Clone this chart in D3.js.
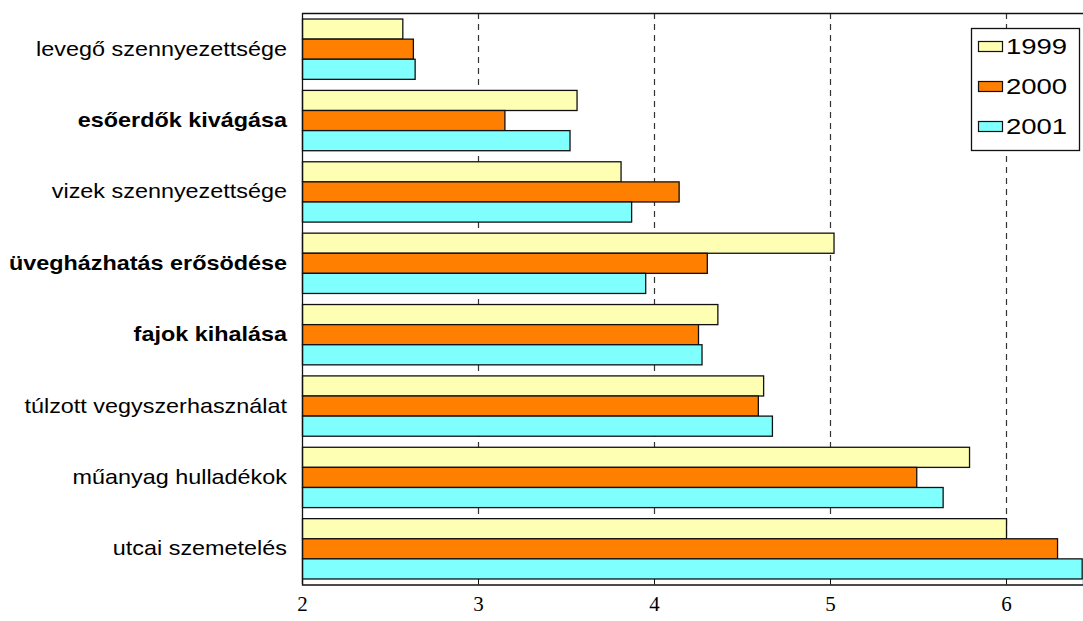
<!DOCTYPE html>
<html>
<head>
<meta charset="utf-8">
<script src="https://cdn.jsdelivr.net/npm/d3@7"></script>
<style>
  body { margin: 0; background: #fff; }
  svg { display: block; }
</style>
</head>
<body>
<div id="chart"></div>
<script>
var categories = ["levegő szennyezettsége", "esőerdők kivágása", "vizek szennyezettsége",
    "üvegházhatás erősödése", "fajok kihalása", "túlzott vegyszerhasználat",
    "műanyag hulladékok", "utcai szemetelés"];
var boldCats = ["esőerdők kivágása", "üvegházhatás erősödése", "fajok kihalása"];
var years = ["1999", "2000", "2001"];
var values1999 = [2.57, 3.56, 3.81, 5.02, 4.36, 4.62, 5.79, 6.00];
var values2000 = [2.63, 3.15, 4.14, 4.30, 4.25, 4.59, 5.49, 6.29];
var values2001 = [2.64, 3.52, 3.87, 3.95, 4.27, 4.67, 5.64, 6.43];
var xTicks = [2, 3, 4, 5, 6];
var colors = ["#FFFFB3", "#FF8000", "#80FFFF"];

var series = [values1999, values2000, values2001];

// the original picture is a bit stretched sideways, so texts get a horizontal scale
var stretch = 1.17;

var W = 1083, H = 621;
var margin = { top: 13, right: 0, bottom: 37, left: 302 };
var width = W - margin.left - margin.right,
    height = H - margin.top - margin.bottom;

var svg = d3.select("#chart").append("svg")
    .attr("width", W).attr("height", H);

var g = svg.append("g")
    .attr("transform", "translate(" + margin.left + "," + margin.top + ")");

var x = d3.scaleLinear().domain([2, 6.4375]).range([0, width]);
var y = d3.scaleBand().domain(categories).range([0, height]).paddingInner(0.155).paddingOuter(0.0775);
var yInner = d3.scaleBand().domain(years).range([0, y.bandwidth()]);

// gridlines
g.selectAll(".grid")
    .data(xTicks.slice(1))
    .enter().append("line")
    .attr("x1", function(d) { return x(d) + 0.5; })
    .attr("x2", function(d) { return x(d) + 0.5; })
    .attr("y1", 0).attr("y2", height)
    .attr("stroke", "#333")
    .attr("stroke-width", 1.2)
    .attr("stroke-dasharray", "6,5");

// bars
var groups = g.selectAll(".cat")
    .data(categories)
    .enter().append("g")
    .attr("transform", function(d) { return "translate(0," + y(d) + ")"; });

groups.selectAll("rect")
    .data(function(d, i) {
        return years.map(function(yr, k) { return { year: yr, value: series[k][i], k: k }; });
    })
    .enter().append("rect")
    .attr("x", 0.5)
    .attr("y", function(d) { return yInner(d.year) + 0.5; })
    .attr("width", function(d) { return x(d.value); })
    .attr("height", yInner.bandwidth())
    .attr("fill", function(d) { return colors[d.k]; })
    .attr("stroke", "#111")
    .attr("stroke-width", 1.3);

// frame lines
g.append("line").attr("x1", 0.5).attr("x2", 0.5).attr("y1", 0).attr("y2", height)
    .attr("stroke", "#111").attr("stroke-width", 1.3);
g.append("line").attr("x1", 0).attr("x2", width).attr("y1", 0.5).attr("y2", 0.5)
    .attr("stroke", "#111").attr("stroke-width", 1.3);

// x axis
var xAxis = g.append("g")
    .attr("transform", "translate(0," + (height + 0.5) + ")")
    .call(d3.axisBottom(x).tickValues(xTicks).tickSize(-5).tickPadding(12).tickFormat(d3.format("d")));
xAxis.select(".domain").attr("stroke", "#111").attr("stroke-width", 1.3);
xAxis.selectAll(".tick line").attr("stroke", "#111").attr("stroke-width", 1);
xAxis.selectAll("text")
    .attr("font-family", "'Liberation Serif', 'Times New Roman', serif")
    .attr("font-size", 21)
    .attr("fill", "#000");

// category labels
g.selectAll(".catLabel")
    .data(categories)
    .enter().append("text")
    .attr("transform", function(d) {
        return "translate(-15," + (y(d) + y.bandwidth() / 2) + ") scale(" + stretch + ",1)";
    })
    .attr("dy", "0.35em")
    .attr("text-anchor", "end")
    .attr("font-family", "'Liberation Sans', Arial, sans-serif")
    .attr("font-size", 20)
    .attr("font-weight", function(d) { return boldCats.indexOf(d) >= 0 ? "bold" : "normal"; })
    .text(function(d) { return d; });

// legend
var legend = svg.append("g").attr("transform", "translate(971,28)");
legend.append("rect")
    .attr("x", 0.5).attr("y", 0.5)
    .attr("width", 108).attr("height", 122)
    .attr("fill", "#fff").attr("stroke", "#111").attr("stroke-width", 1.3);

var items = legend.selectAll(".item")
    .data(years)
    .enter().append("g")
    .attr("transform", function(d, i) { return "translate(0," + (18.5 + i * 40) + ")"; });
items.append("rect")
    .attr("x", 7.5).attr("y", -5)
    .attr("width", 24).attr("height", 10)
    .attr("fill", function(d, i) { return colors[i]; })
    .attr("stroke", "#111").attr("stroke-width", 1.2);
items.append("text")
    .attr("transform", "translate(35,0) scale(1.25,1)")
    .attr("dy", "0.36em")
    .attr("font-family", "'Liberation Sans', Arial, sans-serif")
    .attr("font-size", 22)
    .text(function(d) { return d; });
</script>
</body>
</html>
